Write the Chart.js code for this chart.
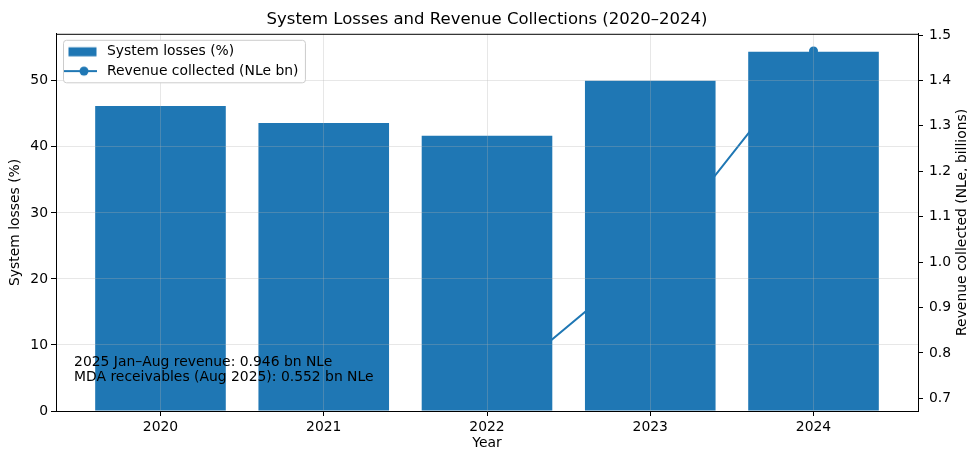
<!DOCTYPE html>
<html>
<head>
<meta charset="utf-8">
<script src="https://cdn.jsdelivr.net/npm/chart.js@4/dist/chart.umd.min.js"></script>
<style>
  html, body { margin: 0; padding: 0; background: #ffffff; }
  #wrap { width: 967px; height: 449px; }
</style>
</head>
<body>
<div id="wrap"><canvas id="c" width="967" height="449"></canvas></div>
<script>
// ---- data ----
const categories = ['2020', '2021', '2022', '2023', '2024'];
const lossPct = [46.2, 43.6, 41.7, 50.0, 54.4];
const revenueBn = [null, null, 0.71, 1.01, 1.465];
const lossTicks = [0, 10, 20, 30, 40, 50];
const revenueTicks = [0.7, 0.8, 0.9, 1.0, 1.1, 1.2, 1.3, 1.4, 1.5];
const noteLines = ['2025 Jan\u2013Aug revenue: 0.946 bn NLe', 'MDA receivables (Aug 2025): 0.552 bn NLe'];
const titleText = 'System Losses and Revenue Collections (2020\u20132024)';
const lossLabel = 'System losses (%)';
const revenueLabel = 'Revenue collected (NLe bn)';
const xTitle = 'Year';
const yTitle = 'System losses (%)';
const y1Title = 'Revenue collected (NLe, billions)';

// ---- styles ----
const BLUE = '#1f77b4';
const FONT = 'DejaVu Sans';
const FS = 13.9;
const GRID = 'rgba(176,176,176,0.3)';

Chart.defaults.font.family = FONT;
Chart.defaults.font.size = FS;
Chart.defaults.color = '#000';

// axis ranges like matplotlib auto-margins
const revVals = revenueBn.filter(v => v !== null);
const rMin = Math.min(...revVals), rMax = Math.max(...revVals);
const rPad = (rMax - rMin) * 0.05;
const lossMax = Math.max(...lossPct) * 1.05;
const xPad = (categories.length - 1 + 0.8) * 0.05;

function swatch(kind) {
  const c = document.createElement('canvas');
  c.width = 36; c.height = 12;
  const g = c.getContext('2d');
  g.fillStyle = BLUE; g.strokeStyle = BLUE;
  if (kind === 'bar') {
    g.fillRect(4.5, 1.5, 28, 9);
  } else {
    g.lineWidth = 2;
    g.beginPath(); g.moveTo(0, 6); g.lineTo(33, 6); g.stroke();
    g.beginPath(); g.arc(20, 6, 4.5, 0, Math.PI * 2); g.fill();
  }
  return c;
}
const swBar = swatch('bar');
const swLine = swatch('line');

const LEG_PAD = 5.4;

const decor = {
  id: 'decor',
  afterLayout(chart) {
    const lg = chart.legend, ca = chart.chartArea;
    if (!lg) return;
    lg.left = ca.left + 8 - LEG_PAD;
    lg.top = ca.top + 5.65;
    lg.right = ca.right;
    lg.bottom = ca.bottom;
    lg.width = lg.right - lg.left;
    lg.height = lg.bottom - lg.top;
  },
  afterDatasetsDraw(chart) {
    const ctx = chart.ctx, ca = chart.chartArea;
    ctx.save();
    ctx.font = FS + 'px "' + FONT + '"';
    ctx.fillStyle = '#000';
    ctx.textAlign = 'left';
    ctx.textBaseline = 'middle';
    const tx = ca.left + 0.021 * (ca.right - ca.left);
    ctx.fillText(noteLines[0], tx, ca.bottom - 49);
    ctx.fillText(noteLines[1], tx, ca.bottom - 34);
    ctx.restore();
  },
  afterDraw(chart) {
    const ctx = chart.ctx, ca = chart.chartArea;
    ctx.save();
    // top spine
    ctx.strokeStyle = '#000';
    ctx.lineWidth = 1;
    ctx.beginPath();
    ctx.moveTo(ca.left, ca.top + 0.5);
    ctx.lineTo(ca.right, ca.top + 0.5);
    ctx.stroke();
    // right axis title (reads bottom-to-top, like matplotlib)
    ctx.font = FS + 'px "' + FONT + '"';
    ctx.fillStyle = '#000';
    ctx.textAlign = 'center';
    ctx.textBaseline = 'middle';
    ctx.translate(chart.width - 4.8, (ca.top + ca.bottom) / 2);
    ctx.rotate(-Math.PI / 2);
    ctx.fillText(y1Title, 0, 0);
    ctx.restore();

    // legend frame + legend on top of grid
    const lg = chart.legend;
    if (lg) {
      ctx.save();
      ctx.font = FS + 'px "' + FONT + '"';
      const tw = Math.max(ctx.measureText(lossLabel).width, ctx.measureText(revenueLabel).width);
      const bx = ca.left + 7.5, by = ca.top + 6.5;
      const bw = (ca.left + 8 + 36 + FS / 2 + tw + 7) - bx;
      const bh = 42.5;
      ctx.beginPath();
      if (ctx.roundRect) ctx.roundRect(bx, by, bw, bh, 3); else ctx.rect(bx, by, bw, bh);
      ctx.fillStyle = '#ffffff';
      ctx.fill();
      ctx.strokeStyle = '#cccccc';
      ctx.lineWidth = 1;
      ctx.stroke();
      ctx.restore();
      lg.draw();
    }
  }
};

const chart = new Chart(document.getElementById('c'), {
  type: 'bar',
  data: {
    datasets: [
      {
        type: 'bar',
        label: lossLabel,
        data: categories.map((c, i) => ({ x: i, y: lossPct[i] })),
        backgroundColor: BLUE,
        borderWidth: 0,
        barPercentage: 0.8,
        categoryPercentage: 1.0,
        yAxisID: 'y',
        order: 0
      },
      {
        type: 'line',
        label: revenueLabel,
        data: categories.map((c, i) => ({ x: i, y: revenueBn[i] })),
        borderColor: BLUE,
        backgroundColor: BLUE,
        borderWidth: 2,
        pointRadius: 4.5,
        pointBorderWidth: 0,
        pointBackgroundColor: BLUE,
        spanGaps: false,
        yAxisID: 'y1',
        order: 1
      }
    ]
  },
  options: {
    responsive: false,
    devicePixelRatio: 1,
    animation: false,
    layout: { padding: 0 },
    plugins: {
      tooltip: { enabled: false },
      title: {
        display: true,
        text: titleText,
        fullSize: false,
        color: '#000',
        font: { size: 16.5, weight: 'normal', lineHeight: 1.2 },
        padding: { top: 10, bottom: 4 }
      },
      legend: {
        display: true,
        position: 'chartArea',
        align: 'start',
        labels: {
          usePointStyle: true,
          pointStyleWidth: 36,
          boxHeight: 9,
          padding: LEG_PAD,
          color: '#000',
          font: { size: FS },
          generateLabels(ch) {
            return ch.data.datasets.map((ds, i) => ({
              text: ds.label,
              datasetIndex: i,
              hidden: false,
              fillStyle: BLUE,
              strokeStyle: BLUE,
              lineWidth: 0,
              fontColor: '#000',
              pointStyle: i === 0 ? swBar : swLine
            }));
          }
        }
      }
    },
    scales: {
      x: {
        type: 'linear',
        position: 'bottom',
        min: -0.4 - xPad,
        max: categories.length - 1 + 0.4 + xPad,
        offset: false,
        afterBuildTicks(scale) { scale.ticks = categories.map((c, i) => ({ value: i })); },
        afterFit(scale) { scale.height = 38; },
        ticks: {
          callback: (v) => categories[v],
          color: '#000',
          padding: 3,
          maxRotation: 0,
          autoSkip: false,
          font: { size: FS }
        },
        grid: { color: GRID, lineWidth: 1, offset: false, z: 1, tickColor: '#000', tickLength: 5 },
        border: { color: '#000', width: 1, z: 2 },
        title: { display: true, text: xTitle, color: '#000', font: { size: FS, lineHeight: 0.75 }, padding: { top: 0, bottom: 0 } }
      },
      y: {
        type: 'linear',
        position: 'left',
        min: 0,
        max: lossMax,
        afterBuildTicks(scale) { scale.ticks = lossTicks.map(v => ({ value: v })); },
        afterFit(scale) { scale.width = 56; },
        ticks: { color: '#000', padding: 3, font: { size: FS } },
        grid: {
          color: (c) => (c.tick && c.tick.value === 0 ? 'rgba(0,0,0,0)' : GRID),
          lineWidth: 1, z: 1, tickColor: '#000', tickLength: 5
        },
        border: { color: '#000', width: 1, z: 2 },
        title: { display: true, text: yTitle, color: '#000', font: { size: FS, lineHeight: 1 }, padding: { top: 8.5, bottom: 0 } }
      },
      y1: {
        type: 'linear',
        position: 'right',
        min: rMin - rPad,
        max: rMax + rPad,
        afterBuildTicks(scale) { scale.ticks = revenueTicks.map(v => ({ value: v })); },
        afterFit(scale) { scale.width = 49; },
        ticks: { color: '#000', padding: 6, font: { size: FS }, callback: (v) => v.toFixed(1) },
        grid: { drawOnChartArea: false, tickColor: '#000', tickLength: 5 },
        border: { color: '#000', width: 1, z: 2 },
        title: { display: false }
      }
    }
  },
  plugins: [decor]
});
</script>
</body>
</html>
